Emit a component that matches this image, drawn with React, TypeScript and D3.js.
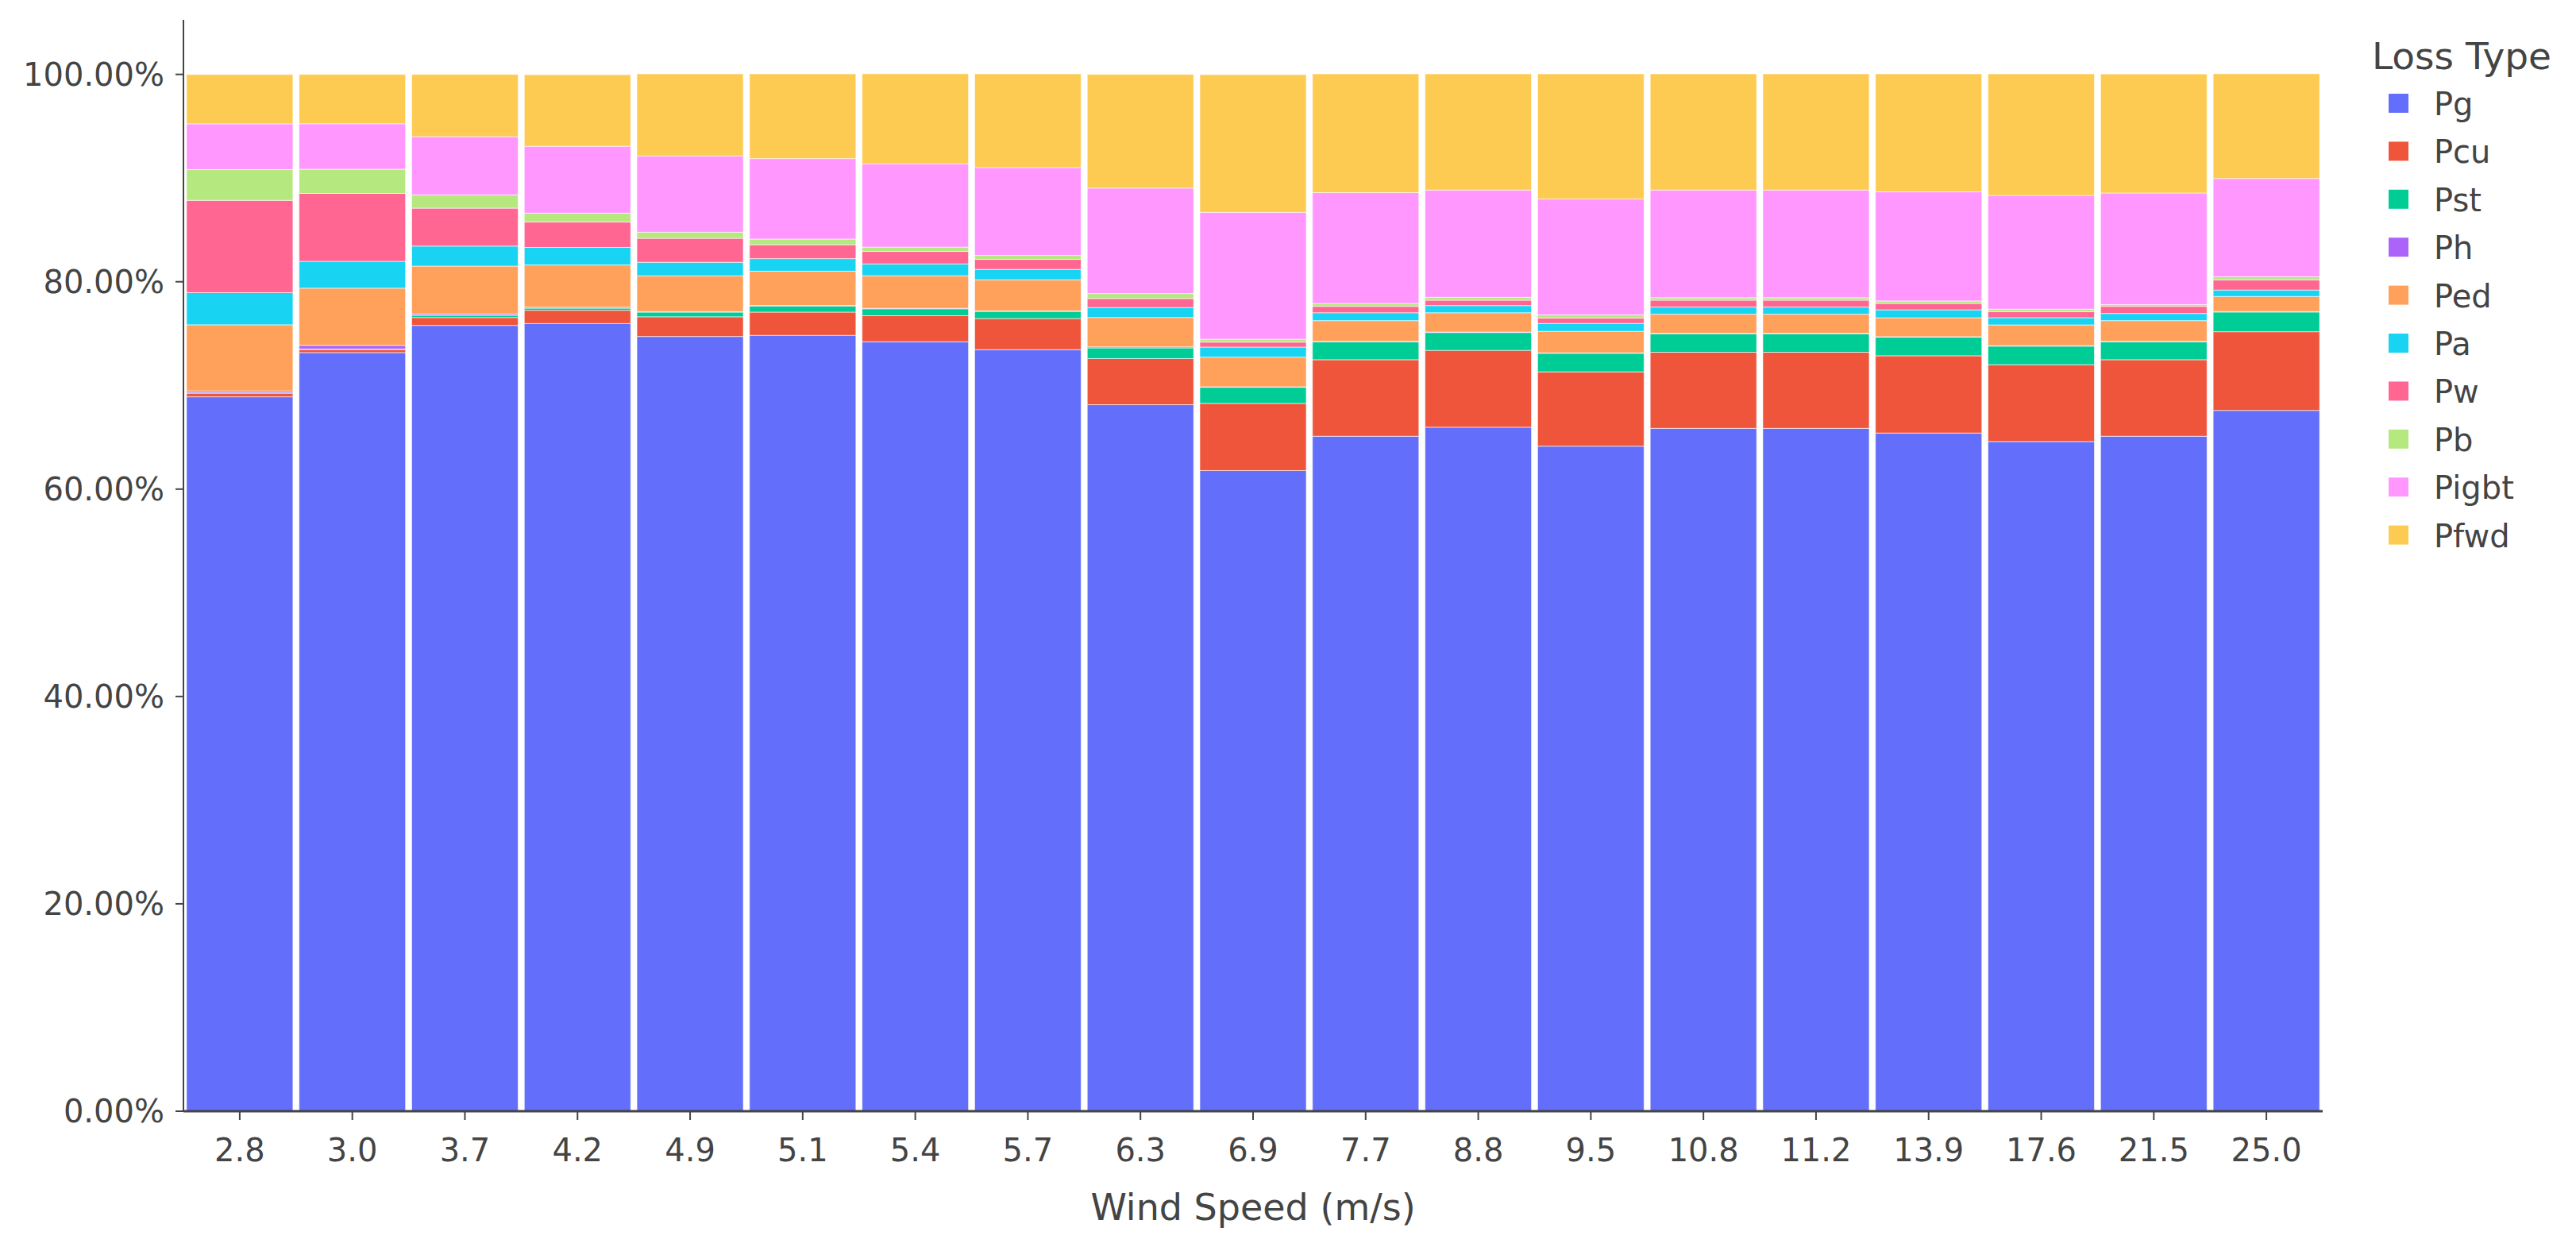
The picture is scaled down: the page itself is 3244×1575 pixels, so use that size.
import { useEffect, useRef } from 'react'
import * as d3 from 'd3'

const speeds = ['2.8', '3.0', '3.7', '4.2', '4.9', '5.1', '5.4', '5.7', '6.3', '6.9', '7.7', '8.8', '9.5', '10.8', '11.2', '13.9', '17.6', '21.5', '25.0']

// share of each loss type, in percent, per wind speed
const Pg = [68.9, 73.17, 75.79, 75.97, 74.72, 74.83, 74.21, 73.45, 68.14, 61.79, 65.1, 65.97, 64.14, 65.86, 65.86, 65.41, 64.59, 65.1, 67.59]
const Pcu = [0.35, 0.3, 0.76, 1.28, 1.9, 2.24, 2.52, 3.0, 4.45, 6.48, 7.38, 7.41, 7.17, 7.34, 7.34, 7.45, 7.41, 7.38, 7.59]
const Pst = [0.05, 0.05, 0.2, 0.2, 0.45, 0.59, 0.66, 0.69, 1.03, 1.55, 1.72, 1.72, 1.79, 1.79, 1.79, 1.79, 1.79, 1.72, 1.9]
const Ph = [0.17, 0.34, 0.14, 0.1, 0.05, 0.05, 0.05, 0.05, 0.1, 0.05, 0.05, 0.05, 0.05, 0.05, 0.05, 0.05, 0.05, 0.05, 0.05]
const Ped = [6.38, 5.52, 4.62, 4.07, 3.45, 3.31, 3.14, 3.0, 2.83, 2.86, 2.0, 1.86, 2.07, 1.83, 1.83, 1.83, 2.0, 2.0, 1.45]
const Pa = [3.1, 2.59, 1.93, 1.69, 1.31, 1.21, 1.14, 1.0, 0.97, 0.97, 0.76, 0.69, 0.76, 0.69, 0.69, 0.76, 0.69, 0.69, 0.62]
const Pw = [8.9, 6.55, 3.66, 2.45, 2.31, 1.34, 1.21, 0.97, 0.86, 0.48, 0.62, 0.52, 0.52, 0.66, 0.66, 0.62, 0.59, 0.69, 0.97]
const Pb = [2.97, 2.34, 1.28, 0.86, 0.59, 0.55, 0.41, 0.38, 0.48, 0.28, 0.28, 0.28, 0.31, 0.24, 0.24, 0.24, 0.24, 0.17, 0.31]
const Pigbt = [4.41, 4.38, 5.62, 6.45, 7.34, 7.76, 8.03, 8.48, 10.17, 12.24, 10.69, 10.34, 11.17, 10.38, 10.38, 10.52, 10.97, 10.76, 9.48]
const Pfwd = [4.76, 4.76, 6.0, 6.9, 7.93, 8.17, 8.69, 9.03, 10.97, 13.28, 11.45, 11.21, 12.07, 11.21, 11.21, 11.38, 11.72, 11.48, 10.1]

const lossTypes = ['Pg', 'Pcu', 'Pst', 'Ph', 'Ped', 'Pa', 'Pw', 'Pb', 'Pigbt', 'Pfwd']
const lossValues = [Pg, Pcu, Pst, Ph, Ped, Pa, Pw, Pb, Pigbt, Pfwd]
const colors = ['#636EFA', '#EF553B', '#00CC96', '#AB63FA', '#FFA15A', '#19D3F3', '#FF6692', '#B6E880', '#FF97FF', '#FECB52']
const yTicks = [0, 20, 40, 60, 80, 100]

export default function App() {
  const svgRef = useRef<SVGSVGElement>(null)

  useEffect(() => {
    document.body.style.margin = '0'
    const svgEl = svgRef.current
    if (!svgEl) return
    const W = 3244
    const H = 1575
    const left = 231, right = 2925, top = 25, bottom = 1399
    const font = '"DejaVu Sans", Verdana, sans-serif'
    const textColor = '#444'

    const svg = d3.select(svgEl)
    svg.selectAll('*').remove()
    svg.append('rect').attr('width', W).attr('height', H).attr('fill', 'white')

    const x = d3.scaleBand<string>().domain(speeds).range([left, right]).paddingInner(0.055).paddingOuter(0.0275)
    const y = d3.scaleLinear().domain([0, 105.26]).range([bottom, top])

    const rows = speeds.map((s, i) => {
      const r: Record<string, any> = { speed: s }
      lossTypes.forEach((k, j) => { r[k] = lossValues[j][i] })
      return r
    })
    const stacked = d3.stack<any>().keys(lossTypes)(rows)

    stacked.forEach((layer, j) => {
      svg.append('g').selectAll('rect').data(layer).join('rect')
        .attr('x', (d: any) => x(d.data.speed)!)
        .attr('width', x.bandwidth())
        .attr('y', (d: any) => y(d[1]))
        .attr('height', (d: any) => Math.max(0, y(d[0]) - y(d[1])))
        .attr('fill', colors[j])
        .attr('stroke', 'white').attr('stroke-width', 1).attr('stroke-opacity', 0.6)
    })

    // y axis
    svg.append('line').attr('x1', left).attr('x2', left).attr('y1', top).attr('y2', bottom)
      .attr('stroke', '#444').attr('stroke-width', 2)
    yTicks.forEach((t) => {
      svg.append('line').attr('x1', left - 10).attr('x2', left).attr('y1', y(t)).attr('y2', y(t))
        .attr('stroke', '#444').attr('stroke-width', 2)
      svg.append('text').attr('x', left - 24).attr('y', y(t)).attr('dy', '0.36em')
        .attr('text-anchor', 'end').attr('font-family', font).attr('font-size', 40).attr('fill', textColor)
        .text(`${t.toFixed(2)}%`)
    })

    // x axis
    svg.append('line').attr('x1', left).attr('x2', right).attr('y1', bottom).attr('y2', bottom)
      .attr('stroke', '#444').attr('stroke-width', 3)
    speeds.forEach((s) => {
      const cx = x(s)! + x.bandwidth() / 2
      svg.append('line').attr('x1', cx).attr('x2', cx).attr('y1', bottom).attr('y2', bottom + 11)
        .attr('stroke', '#444').attr('stroke-width', 2)
      svg.append('text').attr('x', cx).attr('y', 1462)
        .attr('text-anchor', 'middle').attr('font-family', font).attr('font-size', 40).attr('fill', textColor)
        .text(s)
    })
    svg.append('text').attr('x', (left + right) / 2).attr('y', 1536)
      .attr('text-anchor', 'middle').attr('font-family', font).attr('font-size', 46).attr('fill', textColor)
      .text('Wind Speed (m/s)')

    // legend
    svg.append('text').attr('x', 2987).attr('y', 87)
      .attr('font-family', font).attr('font-size', 47).attr('fill', textColor).text('Loss Type')
    lossTypes.forEach((k, j) => {
      const cy = 130 + j * 60.4
      svg.append('rect').attr('x', 3008).attr('y', cy - 12).attr('width', 25).attr('height', 24)
        .attr('fill', colors[j])
      svg.append('text').attr('x', 3065).attr('y', cy + 15)
        .attr('font-family', font).attr('font-size', 40).attr('fill', textColor).text(k)
    })
  }, [])

  return <svg ref={svgRef} width={3244} height={1575} style={{ display: 'block' }} />
}
